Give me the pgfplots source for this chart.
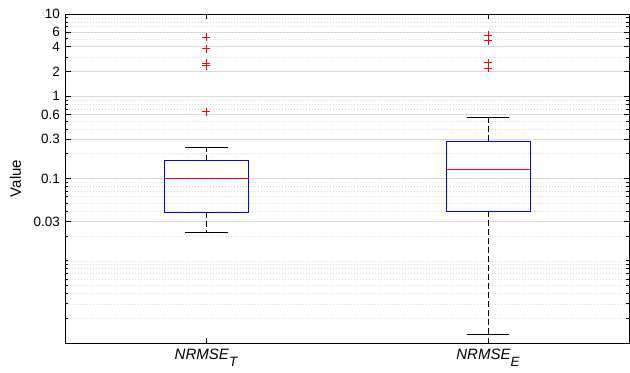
\documentclass[border=0pt]{standalone}
\usepackage{fontspec}
\setmainfont{Liberation Sans}
\usepackage{pgfplots}
\pgfplotsset{compat=1.18}
\begin{document}
\fontsize{13.5bp}{16bp}\selectfont
\begin{tikzpicture}
\useasboundingbox (0,0) rectangle (630bp,373bp);
\begin{axis}[
  at={(65.5bp,30bp)}, anchor=south west,
  width=563.5bp, height=329bp, scale only axis,
  ymode=log, ymin=0.001, ymax=10, xmin=0.5, xmax=2.5,
  xtick={1,2},
  xticklabels={{\fontsize{15bp}{17bp}\selectfont\textit{NRMSE}\raisebox{-6.5bp}{\fontsize{13.5bp}{14bp}\selectfont\textit{T}}},
               {\fontsize{15bp}{17bp}\selectfont\textit{NRMSE}\raisebox{-6.5bp}{\fontsize{13.5bp}{14bp}\selectfont\textit{E}}}},
  ytick={0.03,0.1,0.3,0.6,1,2,4,6,10},
  yticklabels={0.03,0.1,0.3,0.6,1,2,4,6,10},
  minor ytick={0.002,0.003,0.004,0.005,0.006,0.007,0.008,0.009,0.01,
               0.02,0.03,0.04,0.05,0.06,0.07,0.08,0.09,0.1,
               0.2,0.3,0.4,0.5,0.6,0.7,0.8,0.9,1,
               2,3,4,5,6,7,8,9},
  tick align=inside,
  major tick length=5.5bp, minor tick length=3bp,
  every tick/.style={black, line width=0.6bp},
  ymajorgrids, yminorgrids,
  major grid style={gray!30, line width=0.6bp},
  minor grid style={gray!30, line width=0.5bp, dash pattern=on 0.6bp off 2.4bp},
  axis line style={black, line width=0.7bp},
  /pgf/number format/assume math mode=true,
  yticklabel style={font=\fontsize{13.5bp}{16bp}\selectfont, xshift=-1bp},
  xticklabel style={yshift=-1.5bp},
  ylabel={\fontsize{15bp}{17bp}\selectfont Value},
  every axis y label/.style={at={(axis description cs:0,0.5)}, xshift=-50bp, rotate=90, anchor=center},
]
% Box 1: NRMSE_T
\addplot[black, line width=0.6bp, dash pattern=on 6bp off 3bp] coordinates {(1,0.1646) (1,0.2368)};
\addplot[black, line width=0.6bp, dash pattern=on 6bp off 3bp] coordinates {(1,0.0388) (1,0.0222)};
\addplot[black, line width=0.6bp] coordinates {(0.925,0.2368) (1.075,0.2368)};
\addplot[black, line width=0.6bp] coordinates {(0.925,0.0222) (1.075,0.0222)};
\addplot[blue, line width=0.7bp] coordinates {(0.85,0.0388) (1.15,0.0388) (1.15,0.1646) (0.85,0.1646) (0.85,0.0388)};
\addplot[red, line width=0.7bp] coordinates {(0.85,0.1006) (1.15,0.1006)};
\addplot[only marks, mark=+, red, mark size=4bp, mark options={line width=0.6bp}] coordinates {(1,5.21) (1,3.79) (1,2.52) (1,2.35) (1,0.649)};
% Box 2: NRMSE_E
\addplot[black, line width=0.6bp, dash pattern=on 6bp off 3bp] coordinates {(2,0.2834) (2,0.5595)};
\addplot[black, line width=0.6bp, dash pattern=on 6bp off 3bp] coordinates {(2,0.0399) (2,0.00126)};
\addplot[black, line width=0.6bp] coordinates {(1.925,0.5595) (2.075,0.5595)};
\addplot[black, line width=0.6bp] coordinates {(1.925,0.00126) (2.075,0.00126)};
\addplot[blue, line width=0.7bp] coordinates {(1.85,0.0399) (2.15,0.0399) (2.15,0.2834) (1.85,0.2834) (1.85,0.0399)};
\addplot[red, line width=0.8bp] coordinates {(1.85,0.1294) (2.15,0.1294)};
\addplot[only marks, mark=+, red, mark size=4bp, mark options={line width=0.6bp}] coordinates {(2,5.55) (2,4.74) (2,2.56) (2,2.19)};
\end{axis}
\end{tikzpicture}
\end{document}
